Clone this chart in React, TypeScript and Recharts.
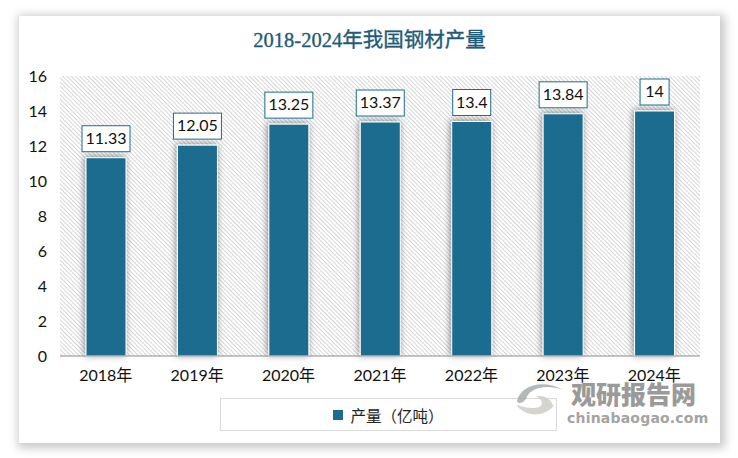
import React from "react";
import { BarChart, Bar, XAxis, YAxis, CartesianGrid, LabelList, Legend } from "recharts";

const categories = ["2018年", "2019年", "2020年", "2021年", "2022年", "2023年", "2024年"];
const values = [11.33, 12.05, 13.25, 13.37, 13.4, 13.84, 14];
const yTicks = [0, 2, 4, 6, 8, 10, 12, 14, 16];
const seriesName = "产量（亿吨）";
const titleText = "2018-2024年我国钢材产量";

const rows = categories.map((year, i) => ({ year, value: values[i] }));
const BLUE = "#1c6c90";
const FONT = "Lato, 'Noto Sans CJK SC', sans-serif";

function DataLabel(props: any) {
  const { x, y, width, value } = props;
  const text = String(value);
  const boxW = text.length <= 2 ? 29 : text.length === 4 && text.includes(".") ? 38 : 48;
  const boxH = 26;
  const cx = x + width / 2;
  const top = y - 32;
  return (
    <g>
      <rect x={cx - boxW / 2} y={top} width={boxW} height={boxH} fill="#fff" stroke={BLUE} strokeWidth={1} />
      <text x={cx} y={top + boxH / 2 + 1} textAnchor="middle" dominantBaseline="middle" fontSize={16} fontFamily={FONT} fill="#111">
        {text}
      </text>
    </g>
  );
}

function LegendBox() {
  return (
    <div style={{ width: 335, height: 31, border: "1px solid #d9d9d9", boxSizing: "content-box", display: "flex", alignItems: "center", justifyContent: "center", fontFamily: FONT, fontSize: 15.5, color: "#222" }}>
      <span style={{ width: 10, height: 10, background: BLUE, marginRight: 7, display: "inline-block" }} />
      {seriesName}
    </div>
  );
}

export default function App() {
  return (
    <div style={{ position: "absolute", left: 0, top: 0, width: 738, height: 458, background: "#fff", overflow: "hidden" }}>
      <div style={{ position: "absolute", left: 19, top: 16, width: 701, height: 427, background: "#fff", boxShadow: "2px 2px 9px 3px rgba(0,0,0,0.22)" }} />
      <div style={{ position: "absolute", left: 19, width: 701, top: 26, textAlign: "center", fontFamily: "'Liberation Serif', 'Noto Sans CJK SC', serif", fontWeight: 400, fontSize: 20.5, lineHeight: "28px", color: "#1f5a78", WebkitTextStroke: "0.35px #1f5a78" }}>
        {titleText}
      </div>
      <div style={{ position: "absolute", left: 0, top: 0 }}>
        <BarChart width={738} height={458} data={rows} margin={{ top: 76, right: 38, bottom: 0, left: 0 }} barSize={40}>
          <defs>
            <pattern id="hatch" width="3" height="3" patternUnits="userSpaceOnUse" patternTransform="rotate(45)">
              <rect width="3" height="3" fill="#fff" />
              <rect width="3" height="1" fill="#d6d6d6" />
            </pattern>
            <filter id="barShadow" x="-30%" y="-10%" width="150%" height="115%">
              <feDropShadow dx="-1" dy="-1" stdDeviation="3.5" floodColor="#000" floodOpacity="0.45" />
            </filter>
          </defs>
          <CartesianGrid horizontal={false} vertical={false} fill="url(#hatch)" />
          <XAxis dataKey="year" height={69} tickLine={false} axisLine={{ stroke: "#8c8c8c", strokeWidth: 1 }} tick={{ fontSize: 16, fontFamily: FONT, fill: "#111" }} tickMargin={8} interval={0} />
          <YAxis width={60} domain={[0, 16]} ticks={yTicks} tickLine={false} axisLine={false} tick={{ fontSize: 16, fontFamily: FONT, fill: "#111" }} tickMargin={7} />
          <Legend verticalAlign="bottom" wrapperStyle={{ position: "absolute", left: 220, top: 398, width: 337, height: 33 }} content={() => <LegendBox />} />
          <Bar dataKey="value" name={seriesName} fill={BLUE} stroke="#fff" strokeWidth={1} isAnimationActive={false} style={{ filter: "url(#barShadow)" }}>
            <LabelList dataKey="value" content={(p: any) => <DataLabel {...p} />} />
          </Bar>
        </BarChart>
      </div>
      <svg style={{ position: "absolute", left: 512, top: 378, opacity: 0.85 }} width="56" height="40" viewBox="0 0 70 48" preserveAspectRatio="none">
        <path d="M6 28 C10 10 36 0 64 14 C44 8 24 10 18 24 C15 30 8 32 6 28Z" fill="#a9adaf" />
        <path d="M5 32 C14 44 36 50 52 34 C48 24 40 20 30 22 C40 26 40 36 28 36 C18 36 12 34 5 32Z" fill="#cfcdc6" />
      </svg>
      <div style={{ position: "absolute", left: 571, top: 378, width: 160, fontFamily: "'Noto Sans CJK SC', sans-serif", fontWeight: 900, fontSize: 25, lineHeight: "30px", color: "#9a9a9a" }}>
        观研报告网
      </div>
      <div style={{ position: "absolute", left: 567, top: 409, width: 170, fontFamily: "'DejaVu Sans', sans-serif", fontSize: 14, fontWeight: 700, lineHeight: "18px", letterSpacing: 0.2, color: "#a4a4a4" }}>
        chinabaogao.com
      </div>
    </div>
  );
}
